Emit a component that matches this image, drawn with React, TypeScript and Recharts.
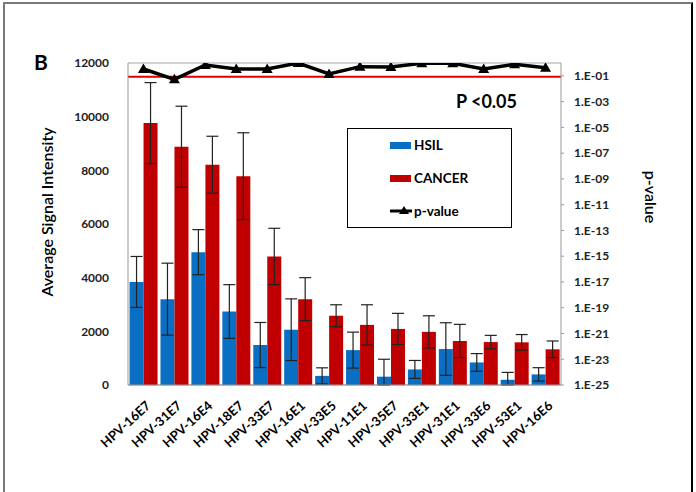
import React from "react";
import {
  ComposedChart,
  Bar,
  Line,
  XAxis,
  YAxis,
  CartesianGrid,
  ReferenceLine,
  ErrorBar,
  Label,
} from "recharts";

const categories = [
  "HPV-16E7", "HPV-31E7", "HPV-16E4", "HPV-18E7", "HPV-33E7", "HPV-16E1", "HPV-33E5",
  "HPV-11E1", "HPV-35E7", "HPV-33E1", "HPV-31E1", "HPV-33E6", "HPV-53E1", "HPV-16E6",
];
const hsil = [3840, 3200, 4950, 2740, 1490, 2060, 340, 1300, 310, 580, 1340, 840, 195, 395];
const hsilErr = [950, 1340, 840, 1000, 840, 1150, 300, 670, 650, 335, 980, 330, 275, 250];
const cancer = [9760, 8880, 8210, 7780, 4790, 3200, 2580, 2240, 2090, 1980, 1640, 1600, 1590, 1330];
const cancerErr = [1510, 1510, 1060, 1620, 1050, 800, 410, 750, 580, 600, 620, 250, 290, 310];
const pValues = [0.34, 0.054, 0.7, 0.34, 0.34, 1.0, 0.14, 0.52, 0.49, 0.95, 0.95, 0.34, 0.79, 0.43];
const leftTicks = [0, 2000, 4000, 6000, 8000, 10000, 12000];
const rightTicks = [1e-25, 1e-23, 1e-21, 1e-19, 1e-17, 1e-15, 1e-13, 1e-11, 1e-9, 1e-7, 1e-5, 1e-3, 1e-1];
const pThreshold = 0.085;

const data = categories.map((c, i) => ({
  name: c,
  hsil: hsil[i],
  hsilErr: [Math.min(hsilErr[i], hsil[i]), hsilErr[i]],
  cancer: cancer[i],
  cancerErr: [Math.min(cancerErr[i], cancer[i]), cancerErr[i]],
  p: pValues[i],
}));

const BLUE = "#0a6fc2";
const RED = "#c00000";
const FONT = "Lato, 'Open Sans', sans-serif";

const fmtP = (v: number) => {
  const e = Math.round(Math.log10(v));
  return `1.E${e < 0 ? "-" : "+"}${String(Math.abs(e)).padStart(2, "0")}`;
};

const Triangle = (props: any) => {
  const { cx, cy } = props;
  if (cx == null || cy == null) return null;
  return <polygon points={`${cx},${cy - 5.5} ${cx + 5.5},${cy + 4} ${cx - 5.5},${cy + 4}`} fill="#000" />;
};

const XTick = (props: any) => {
  const { x, y, payload } = props;
  return (
    <g transform={`translate(${x + 8},${y + 14})`}>
      <text
        x={0}
        y={0}
        textAnchor="end"
        transform="rotate(-42)"
        fontFamily={FONT}
        fontWeight={700}
        fontSize={13}
        fill="#000"
      >
        {payload.value}
      </text>
    </g>
  );
};

const LegendBox = () => (
  <div
    style={{
      position: "absolute",
      left: 347,
      top: 128,
      width: 163,
      height: 98,
      border: "1px solid #000",
      background: "#fff",
      fontFamily: FONT,
      fontWeight: 700,
      fontSize: 13.5,
      color: "#000",
    }}
  >
    <div style={{ position: "absolute", left: 42, top: 8, display: "flex", alignItems: "center" }}>
      <span style={{ display: "inline-block", width: 21, height: 7, background: BLUE, marginRight: 3 }} />
      <span>HSIL</span>
    </div>
    <div style={{ position: "absolute", left: 42, top: 41, display: "flex", alignItems: "center" }}>
      <span style={{ display: "inline-block", width: 21, height: 7, background: RED, marginRight: 3 }} />
      <span>CANCER</span>
    </div>
    <div style={{ position: "absolute", left: 42, top: 74, display: "flex", alignItems: "center" }}>
      <svg width={22} height={10} style={{ marginRight: 2 }}>
        <line x1={0} y1={5} x2={22} y2={5} stroke="#000" strokeWidth={3} />
        <polygon points="14,0 19,8 9,8" fill="#000" />
      </svg>
      <span>p-value</span>
    </div>
  </div>
);

export default function App() {
  return (
    <div style={{ position: "absolute", left: 0, top: 0, width: 696, height: 492, background: "#fff", overflow: "hidden" }}>
      <div
        style={{
          position: "absolute",
          left: 3,
          top: 2,
          width: 686,
          height: 500,
          borderLeft: "2px solid #7a7a7a",
          borderTop: "2px solid #7a7a7a",
          borderRight: "2px solid #000",
        }}
      />
      <div
        style={{
          position: "absolute",
          left: 34,
          top: 49,
          fontFamily: FONT,
          fontWeight: 700,
          fontSize: 21,
          color: "#000",
        }}
      >
        B
      </div>
      <ComposedChart
        width={696}
        height={492}
        data={data}
        margin={{ top: 63, right: 65, bottom: 17, left: 68 }}
        barCategoryGap="5%"
        barGap={0}
        style={{ position: "absolute", left: 0, top: 0 }}
      >
        <CartesianGrid vertical={false} stroke="#a6a6a6" strokeWidth={1.2} />
        <XAxis
          dataKey="name"
          height={90}
          interval={0}
          tick={<XTick />}
          tickLine={false}
          axisLine={{ stroke: "#999" }}
        />
        <YAxis
          yAxisId="left"
          width={60}
          domain={[0, 12000]}
          ticks={leftTicks}
          interval={0}
          tickLine={false}
          axisLine={{ stroke: "#999" }}
          tickMargin={13}
          tick={{ fontFamily: FONT, fontWeight: 700, fontSize: 12, fill: "#222" }}
          allowDataOverflow
        >
          <Label
            content={() => (
              <text
                x={0}
                y={0}
                transform="translate(53,212) rotate(-90)"
                textAnchor="middle"
                fontFamily={FONT}
                fontSize={16}
                fontWeight={600}
                fill="#000"
              >
                Average Signal Intensity
              </text>
            )}
          />
        </YAxis>
        <YAxis
          yAxisId="right"
          orientation="right"
          width={70}
          scale="log"
          domain={[1e-25, 1]}
          ticks={rightTicks}
          interval={0}
          tickFormatter={fmtP}
          tickLine={{ stroke: "#999" }}
          tickSize={3}
          tickMargin={10}
          axisLine={{ stroke: "#999" }}
          tick={{ fontFamily: FONT, fontWeight: 700, fontSize: 12, fill: "#222" }}
          allowDataOverflow
        >
          <Label
            content={() => (
              <text
                x={0}
                y={0}
                transform="translate(645,197) rotate(90)"
                textAnchor="middle"
                fontFamily={FONT}
                fontSize={16}
                fontWeight={600}
                fill="#000"
              >
                p-value
              </text>
            )}
          />
        </YAxis>
        <Bar yAxisId="left" dataKey="hsil" name="HSIL" fill={BLUE} isAnimationActive={false}>
          <ErrorBar dataKey="hsilErr" width={6} stroke="#222" strokeWidth={1.2} direction="y" />
        </Bar>
        <Bar yAxisId="left" dataKey="cancer" name="CANCER" fill={RED} isAnimationActive={false}>
          <ErrorBar dataKey="cancerErr" width={6} stroke="#222" strokeWidth={1.2} direction="y" />
        </Bar>
        <ReferenceLine
          yAxisId="right"
          y={pThreshold}
          stroke="#e00000"
          strokeWidth={2}
          label={(props: any) => {
            const vb = props.viewBox || {};
            return (
              <text
                x={vb.x + vb.width - 44}
                y={vb.y + 31}
                textAnchor="end"
                fontFamily={FONT}
                fontWeight={700}
                fontSize={18}
                fill="#000"
              >
                P {"<"}0.05
              </text>
            );
          }}
        />
        <Line
          yAxisId="right"
          dataKey="p"
          name="p-value"
          stroke="#000"
          strokeWidth={3.5}
          dot={<Triangle />}
          activeDot={false}
          isAnimationActive={false}
        />
      </ComposedChart>
      <LegendBox />
    </div>
  );
}
